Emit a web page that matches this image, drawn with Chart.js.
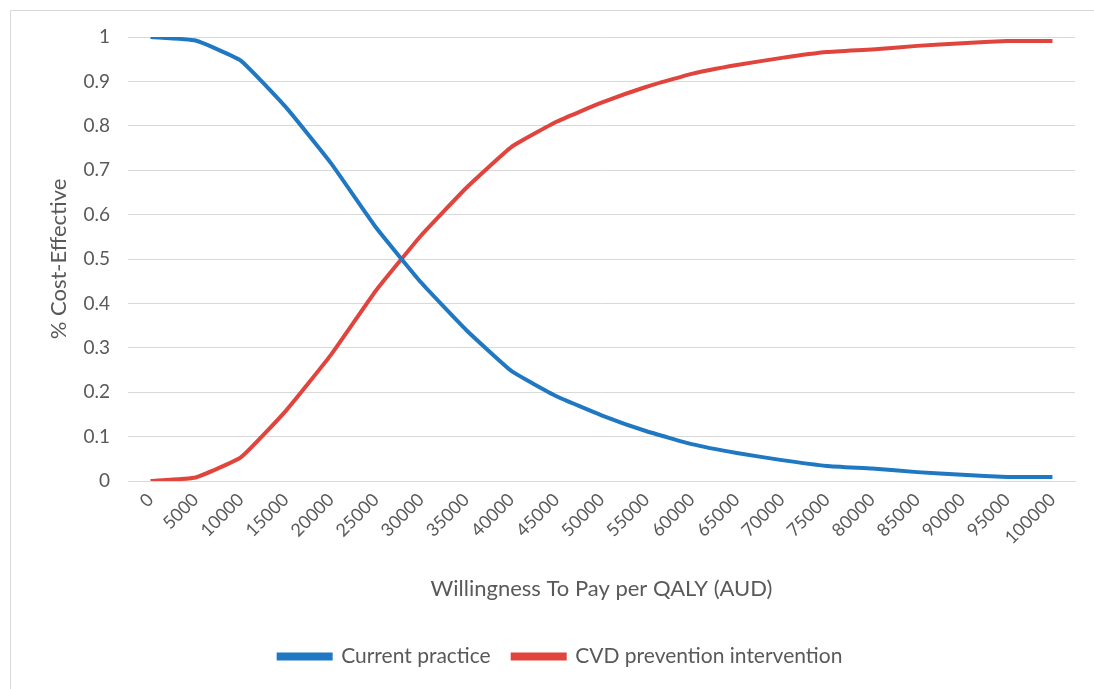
<!DOCTYPE html>
<html>
<head>
<meta charset="utf-8">
<script src="https://cdn.jsdelivr.net/npm/chart.js@4"></script>
<style>
  html, body { margin: 0; padding: 0; background: #fff; overflow: hidden; }
  #wrap { position: relative; width: 1094px; height: 689px; }
  #frame { position: absolute; left: 10px; top: 10px; width: 1200px; height: 800px; border: 1px solid #d9d9d9; }
  canvas { position: absolute; left: 0; top: 0; }
</style>
</head>
<body>
<div id="wrap">
  <div id="frame"></div>
  <canvas id="ceacChart" width="1094" height="689"></canvas>
</div>
<script>
// willingness to pay thresholds (AUD)
const wtp = ['0', '5000', '10000', '15000', '20000', '25000', '30000', '35000', '40000', '45000', '50000',
    '55000', '60000', '65000', '70000', '75000', '80000', '85000', '90000', '95000', '100000'];

const currentPractice = [1.0, 0.992, 0.947, 0.842, 0.716, 0.571, 0.447, 0.340, 0.248, 0.191, 0.148,
    0.112, 0.083, 0.063, 0.047, 0.034, 0.028, 0.020, 0.014, 0.009, 0.009];

const cvdIntervention = [0.0, 0.008, 0.053, 0.158, 0.284, 0.429, 0.553, 0.660, 0.752, 0.809, 0.852,
    0.888, 0.917, 0.937, 0.953, 0.966, 0.972, 0.980, 0.986, 0.991, 0.991];

const seriesNames = ['Current practice', 'CVD prevention intervention'];

const font = 'Lato, "Open Sans", sans-serif';
const grey = '#595959';

document.addEventListener("DOMContentLoaded", function() {
    const ctx = document.getElementById('ceacChart').getContext('2d');
    new Chart(ctx, {
        type: 'line',
        data: {
            labels: wtp,
            datasets: [{
                    label: seriesNames[0],
                    data: currentPractice,
                    borderColor: '#1f78c1',
                    backgroundColor: '#1f78c1',
                    borderWidth: 4,
                    pointRadius: 0,
                    tension: 0.12,
                    fill: false
                },
                {
                    label: seriesNames[1],
                    data: cvdIntervention,
                    borderColor: '#e0443c',
                    backgroundColor: '#e0443c',
                    borderWidth: 4,
                    pointRadius: 0,
                    tension: 0.12,
                    fill: false
                }
            ]
        },
        options: {
            responsive: false,
            animation: false,
            layout: {
                padding: { left: 46, right: 19, top: 37, bottom: 12 }
            },
            scales: {
                x: {
                    offset: true,
                    grid: { display: false, drawTicks: false },
                    border: { display: true, color: '#d9d9d9', width: 1 },
                    ticks: {
                        color: grey,
                        font: { family: font, size: 18 },
                        minRotation: 45,
                        maxRotation: 45,
                        autoSkip: false,
                        padding: 8
                    },
                    title: {
                        display: true,
                        text: 'Willingness To Pay per QALY (AUD)',
                        color: grey,
                        font: { family: font, size: 22 },
                        padding: { top: 20, bottom: 22 }
                    },
                    afterFit: function(scale) { scale.height = 143; }
                },
                y: {
                    min: 0,
                    max: 1,
                    grid: { color: '#d9d9d9', drawTicks: false },
                    border: { display: false },
                    ticks: {
                        stepSize: 0.1,
                        color: grey,
                        font: { family: font, size: 19 },
                        padding: 18,
                        callback: function(value) { return String(Math.round(value * 10) / 10); }
                    },
                    title: {
                        display: true,
                        text: '% Cost-Effective',
                        color: grey,
                        font: { family: font, size: 22 },
                        padding: 0
                    },
                    afterFit: function(scale) { scale.width = 82; }
                }
            },
            plugins: {
                legend: {
                    position: 'bottom',
                    labels: {
                        color: grey,
                        font: { family: font, size: 21 },
                        boxWidth: 52,
                        boxHeight: 4,
                        padding: 22
                    }
                },
                tooltip: { enabled: false }
            }
        }
    });
});
</script>
</body>
</html>
